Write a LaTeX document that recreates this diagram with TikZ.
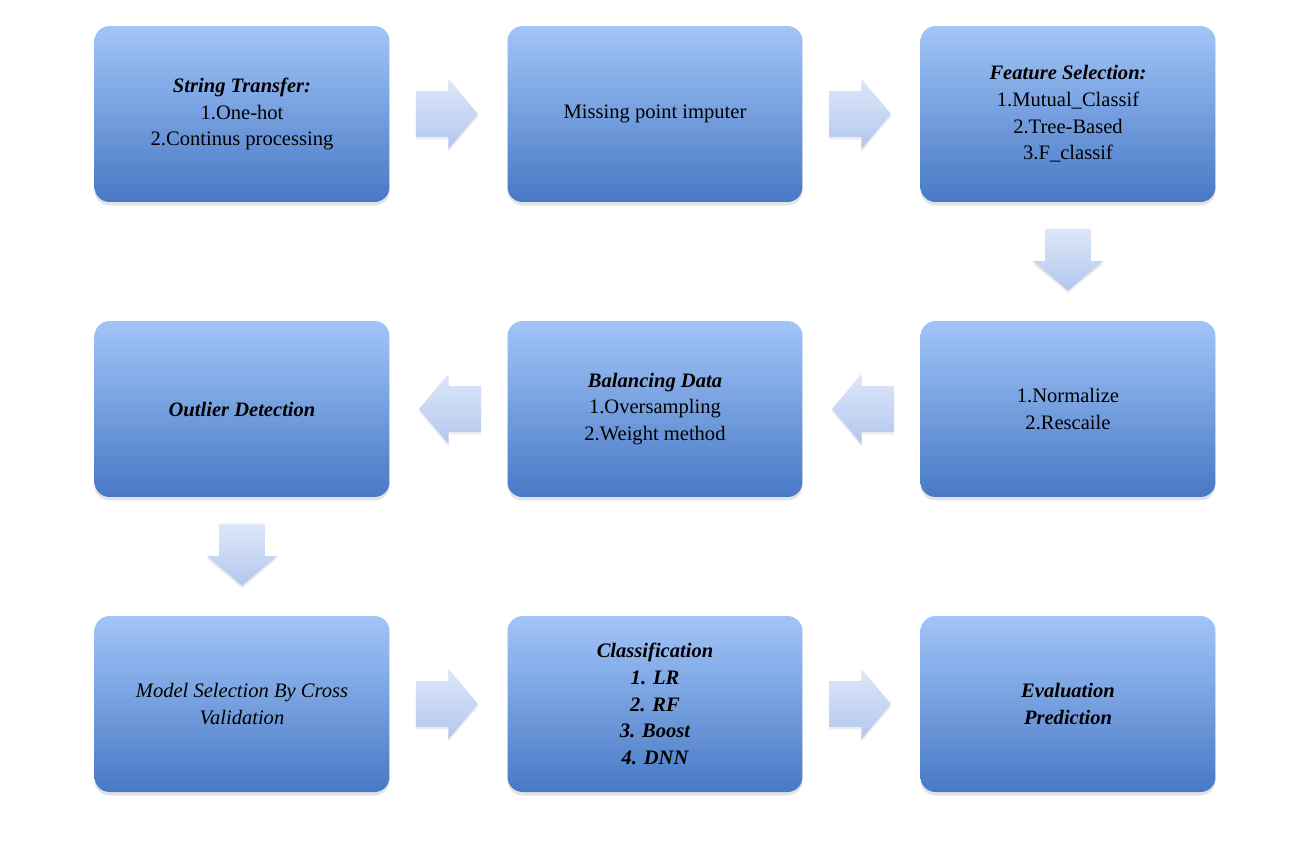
\documentclass[tikz,border=0pt]{standalone}
\usepackage{fontspec}
\setmainfont{Liberation Serif}
\usepackage{tikz}
\usetikzlibrary{shapes.arrows, shadows, calc, positioning}
\definecolor{BoxTop}{RGB}{162,197,248}
\definecolor{BoxBottom}{RGB}{72,121,197}
\definecolor{ArrowDark}{RGB}{178,199,238}
\definecolor{ArrowLight}{RGB}{222,231,249}
\newcommand{\steptitle}[1]{\textbf{\textit{#1}}}
\tikzset{
  % Blocchi del processo
  proc/.style={rectangle,rounded corners=0.3cm,minimum width=5.9cm,minimum height=3.52cm,
    top color=BoxTop,bottom color=BoxBottom,draw=none,align=center,text=black,
    font=\fontsize{11.7}{15.2}\selectfont,
    drop shadow={shadow xshift=0pt,shadow yshift=-0.07cm,opacity=0.22}},
  proc bold/.style={proc,font=\fontsize{11.7}{15.2}\selectfont\bfseries\itshape},
  proc ital/.style={proc,font=\fontsize{11.7}{15.2}\selectfont\itshape},
  % Frecce a blocco tra i passi
  flow/.style={single arrow,single arrow head extend=0.25cm,single arrow head indent=0pt,
    single arrow tip angle=100,minimum height=1.24cm,minimum width=1.4cm,
    inner xsep=0pt,inner ysep=0.45cm,draw=none,anchor=tail,
    top color=ArrowLight,bottom color=ArrowDark,
    drop shadow={shadow xshift=0pt,shadow yshift=-0.05cm,opacity=0.15}}
}
\begin{document}
\begin{tikzpicture}[x=0.02cm,y=-0.02cm]
  \useasboundingbox (0,0) rectangle (1294,840);
  % prima riga
  \node[proc] (string) at (242,114) {\steptitle{String Transfer:}\\1.One-hot\\2.Continus processing};
  \node[proc] (missing) at (655,114) {Missing point imputer};
  \node[proc] (feature) at (1068,114) {\steptitle{Feature Selection:}\\1.Mutual\_Classif\\2.Tree-Based\\3.F\_classif};
  % seconda riga
  \node[proc bold] (outlier) at (242,409) {Outlier Detection};
  \node[proc] (balance) at (655,409) {\steptitle{Balancing Data}\\1.Oversampling\\2.Weight method};
  \node[proc] (scale) at (1068,409) {1.Normalize\\2.Rescaile};
  % terza riga
  \node[proc ital] (model) at (242,704) {Model Selection By Cross\\Validation};
  \node[proc bold] (classif) at (655,704) {Classification\\1. LR\\2. RF\\3. Boost\\4. DNN};
  \node[proc bold] (eval) at (1068,704) {Evaluation\\Prediction};
  % frecce
  \node[flow] (f1) at ($(string.east)!0.22!(missing.west)$) {};
  \node[flow] (f2) at ($(missing.east)!0.22!(feature.west)$) {};
  \node[flow,rotate=-90] (f3) at ($(feature.south)!0.22!(scale.north)$) {};
  \node[flow,rotate=180] (f4) at ($(scale.west)!0.22!(balance.east)$) {};
  \node[flow,rotate=180] (f5) at ($(balance.west)!0.22!(outlier.east)$) {};
  \node[flow,rotate=-90] (f6) at ($(outlier.south)!0.22!(model.north)$) {};
  \node[flow] (f7) at ($(model.east)!0.22!(classif.west)$) {};
  \node[flow] (f8) at ($(classif.east)!0.22!(eval.west)$) {};
\end{tikzpicture}
\end{document}
